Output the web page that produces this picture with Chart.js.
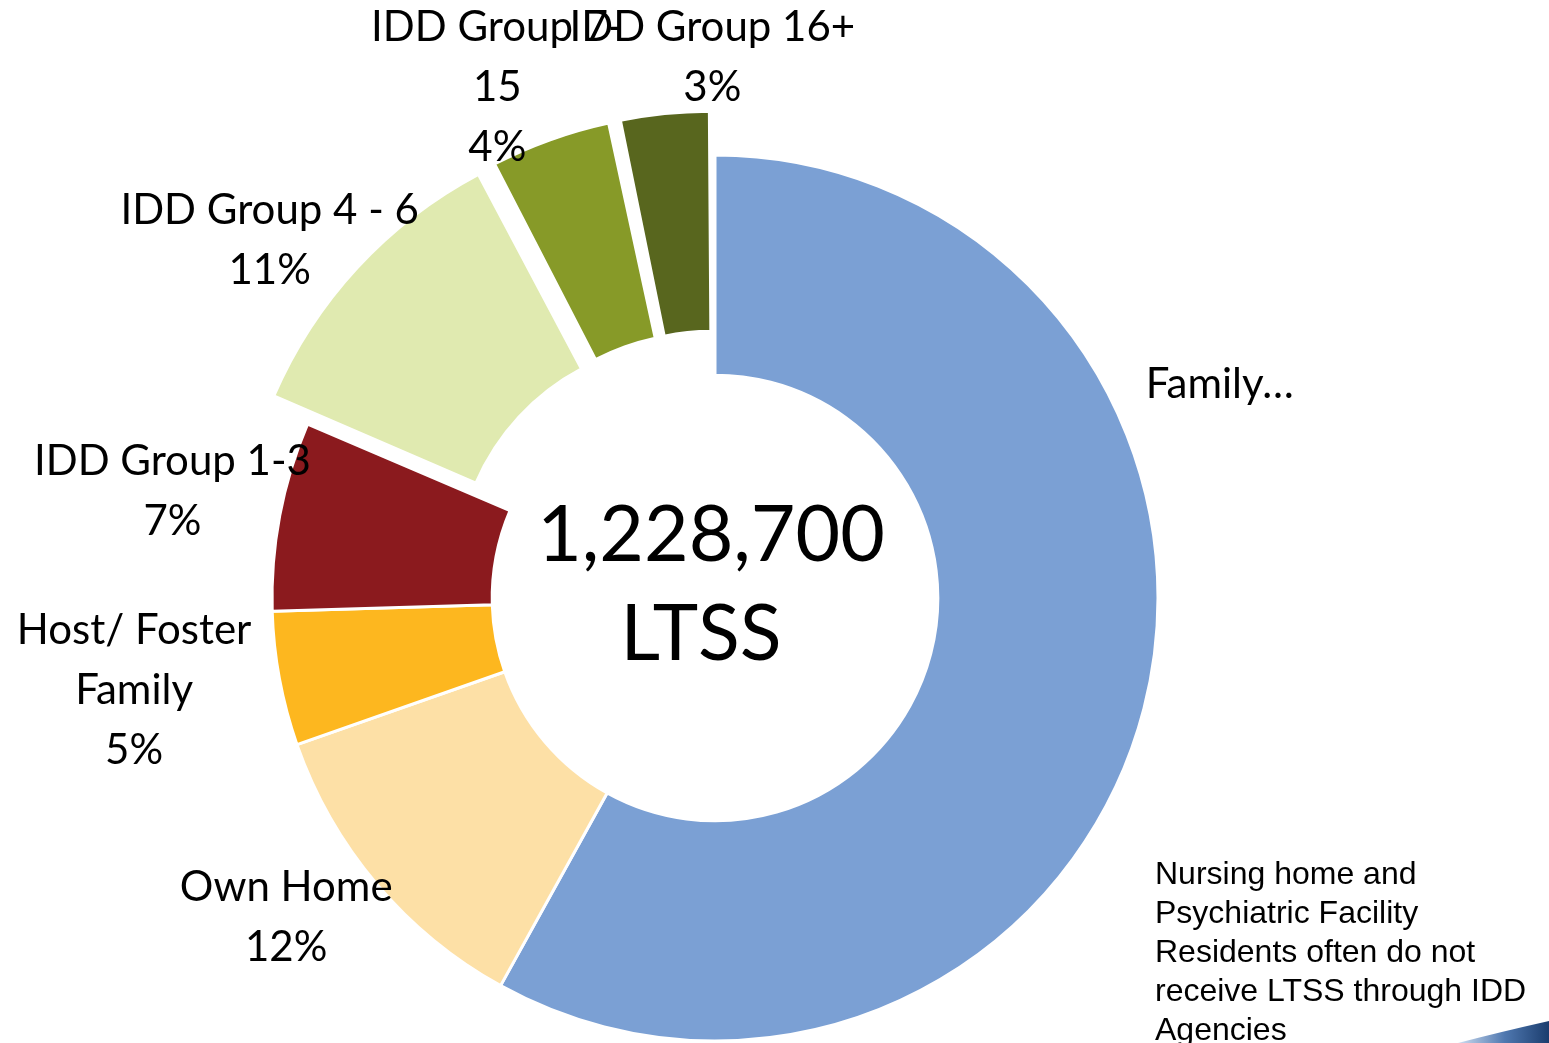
<!DOCTYPE html>
<html>
<head>
<meta charset="utf-8">
<script src="https://cdn.jsdelivr.net/npm/chart.js@4.4.0/dist/chart.umd.min.js"></script>
<style>
  html, body { margin: 0; padding: 0; background: #fff; }
  #wrap { width: 1549px; height: 1043px; position: relative; }
</style>
</head>
<body>
<div id="wrap"><canvas id="ltssChart"></canvas></div>
<script>
// dados (percentual de pessoas por local de moradia)
const categorias = ['Family…', 'Own Home', 'Host/ Foster Family', 'IDD Group 1-3', 'IDD Group 4 - 6', 'IDD Group 7-15', 'IDD Group 16+'];
const percentuais = [58.1, 11.6, 4.9, 6.9, 10.9, 4.4, 3.3];
const destacados = [false, false, false, false, true, true, true];
const mostrarPercentual = [false, true, true, true, true, true, true];
const totalLTSS = '1,228,700';
const nota = ['Nursing home and', 'Psychiatric Facility', 'Residents often do not', 'receive LTSS through IDD', 'Agencies'];

// estilos
const cores = ['#7BA0D4', '#FDE0A6', '#FDB71F', '#8B1A1E', '#E0EAB0', '#879A28', '#58661E'];
const linhasRotulo = [['Family…'], ['Own Home'], ['Host/ Foster', 'Family'], ['IDD Group 1-3'], ['IDD Group 4 - 6'], ['IDD Group 7-', '15'], ['IDD Group 16+']];
const ajusteRotulo = [[-21, -349], [-14, -31], [-47, -7], [-9, -6], [-14, 41], [-19, 42], [58, 43]];
const EXPLODE = 44;
const somaPerc = percentuais.reduce((a, b) => a + b, 0);

// Chart.js translada o arco por offset/4 * (2 - sin(c)); inverter para obter ~44px
function offsetPara(i) {
    if (!destacados[i]) return 0;
    const c = 2 * Math.PI * percentuais[i] / somaPerc;
    return 4 * EXPLODE / (2 - Math.sin(Math.min(Math.PI, c)));
}

const rotulosPlugin = {
    id: 'rotulos',
    afterDatasetsDraw(chart) {
        const ctx = chart.ctx;
        const arcos = chart.getDatasetMeta(0).data;
        ctx.save();
        ctx.fillStyle = '#000';
        ctx.textAlign = 'center';
        ctx.textBaseline = 'middle';
        ctx.font = '42px Lato';
        arcos.forEach((arc, i) => {
            const meio = (arc.startAngle + arc.endAngle) / 2;
            const ex = destacados[i] ? EXPLODE : 0;
            const d = arc.outerRadius + ex + 100;
            const cx = arc.x + Math.cos(meio) * d + ajusteRotulo[i][0];
            const cy = arc.y + Math.sin(meio) * d + ajusteRotulo[i][1];
            const linhas = linhasRotulo[i].slice();
            if (mostrarPercentual[i]) linhas.push(Math.round(percentuais[i]) + '%');
            const alt = 60;
            const y0 = cy - (linhas.length - 1) * alt / 2;
            linhas.forEach((t, k) => ctx.fillText(t, cx, y0 + k * alt));
        });

        // texto central
        const a0 = arcos[0];
        ctx.font = '77px Lato';
        ctx.fillText(totalLTSS, a0.x - 4, a0.y - 62);
        ctx.fillText('LTSS', a0.x - 14, a0.y + 37);

        // nota no canto inferior direito
        ctx.textAlign = 'left';
        ctx.textBaseline = 'alphabetic';
        ctx.font = '32px "Liberation Sans", Arial, sans-serif';
        nota.forEach((t, k) => ctx.fillText(t, 1155, 884 + k * 39));

        // detalhe azul do slide
        const g = ctx.createLinearGradient(1460, 0, 1549, 0);
        g.addColorStop(0, '#c9d9ee');
        g.addColorStop(0.5, '#4f78b0');
        g.addColorStop(1, '#1b3d6e');
        ctx.fillStyle = g;
        ctx.beginPath();
        ctx.moveTo(1458, 1043);
        ctx.quadraticCurveTo(1500, 1032, 1549, 1021);
        ctx.lineTo(1549, 1043);
        ctx.closePath();
        ctx.fill();
        ctx.restore();
    }
};

new Chart(document.getElementById('ltssChart'), {
    type: 'doughnut',
    data: {
        labels: categorias,
        datasets: [{
            label: 'LTSS',
            data: percentuais,
            backgroundColor: cores,
            borderColor: '#ffffff',
            borderWidth: 3,
            offset: (c) => offsetPara(c.dataIndex),
            hoverOffset: 0
        }]
    },
    options: {
        responsive: true,
        maintainAspectRatio: false,
        animation: false,
        radius: 443,
        cutout: '50.3%',
        layout: { padding: { left: 0, right: 119, top: 153, bottom: 0 } },
        plugins: {
            legend: { display: false },
            tooltip: { enabled: false }
        }
    },
    plugins: [rotulosPlugin]
});
</script>
</body>
</html>
